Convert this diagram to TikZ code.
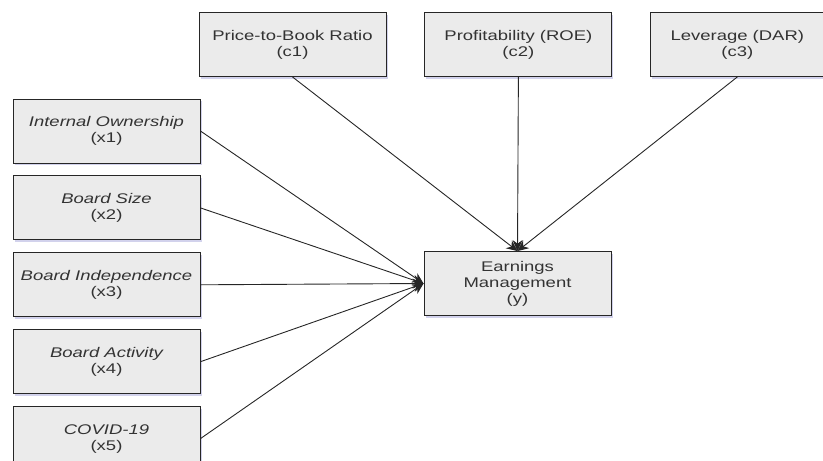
\documentclass[tikz,border=0pt]{standalone}
\usepackage{fontspec}
\setmainfont[FakeStretch=1.32]{Liberation Sans}
\usetikzlibrary{arrows.meta,positioning,shadows}

\begin{document}
\begin{tikzpicture}[x=1pt, y=-1pt, node distance=12pt and 38pt, every node/.style={font=\fontsize{14}{16}\selectfont, text=black!80}, box/.style={draw=black!85, fill=black!8, line width=0.9pt, minimum width=187pt, minimum height=64pt, inner sep=2pt, align=center, drop shadow={shadow xshift=1.5pt, shadow yshift=-2pt, fill=blue!40!gray, opacity=.25}}, ivar/.style={box, font=\fontsize{14}{16}\selectfont\itshape}, arrow/.style={-{Stealth[length=11pt,width=10pt]}, line width=0.9pt, draw=black!85}]
\useasboundingbox (0,0) rectangle (823,461);
\node[box] (c1) at (292.5,44.5) {Price-to-Book Ratio\\(c1)};
\node[box, right=of c1] (c2) {Profitability (ROE)\\(c2)};
\node[box, right=of c2, minimum width=173pt] (c3) {Leverage (DAR)\\(c3)};
\node[box] (y) at (517.5,283.5) {Earnings\\Management\\(y)};
\node[ivar] (x1) at (106.5,131) {Internal Ownership\\\upshape(x1)};
\node[ivar, below=of x1] (x2) {Board Size\\\upshape(x2)};
\node[ivar, below=of x2] (x3) {Board Independence\\\upshape(x3)};
\node[ivar, below=of x3] (x4) {Board Activity\\\upshape(x4)};
\node[ivar, below=of x4] (x5) {COVID-19\\\upshape(x5)};
\draw[arrow] (c1.south)--(y.north); \draw[arrow] (c2.south)--(y.north); \draw[arrow] (c3.south)--(y.north);
\draw[arrow] (x1.east)--(y.west); \draw[arrow] (x2.east)--(y.west); \draw[arrow] (x3.east)--(y.west); \draw[arrow] (x4.east)--(y.west); \draw[arrow] (x5.east)--(y.west);
\end{tikzpicture}
\end{document}
